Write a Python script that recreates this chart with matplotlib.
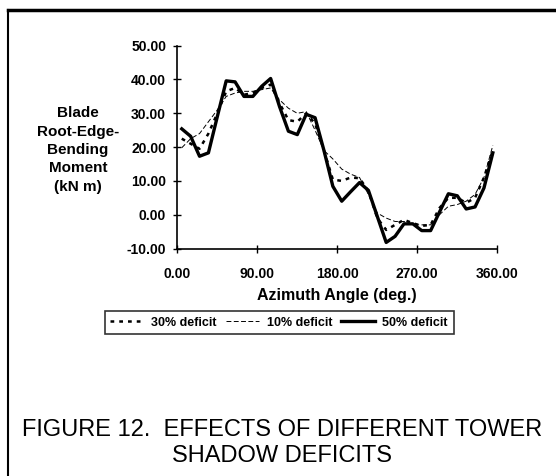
import numpy as np
import matplotlib.pyplot as plt
from matplotlib.lines import Line2D

plt.rcParams['font.family'] = ['Liberation Sans', 'DejaVu Sans']

# azimuth angle (deg.) of each point
azimuth = [5, 15, 25, 35, 45, 55, 65, 75, 85, 95, 105, 115, 125, 135, 145, 155, 165, 175,
           185, 195, 205, 215, 225, 235, 245, 255, 265, 275, 285, 295, 305, 315, 325, 335, 345, 355]

# blade root edge bending moment (kN m)
deficit_30 = [22.5, 21.0, 19.5, 24.0, 30.0, 36.5, 37.5, 35.5, 36.0, 37.5, 38.5, 33.0,
              28.0, 27.5, 30.0, 27.0, 19.0, 10.4, 10.0, 11.0, 10.8, 7.0, -1.0, -4.5,
              -3.0, -1.5, -2.5, -3.3, -3.0, 2.0, 5.0, 5.0, 3.5, 5.0, 11.0, 19.0]
deficit_10 = [19.8, 22.5, 24.0, 27.5, 31.0, 35.0, 36.0, 36.5, 36.5, 37.0, 37.5, 34.0,
              31.5, 30.0, 30.5, 25.0, 19.0, 16.5, 13.5, 12.0, 11.0, 6.0, 0.5, -1.0,
              -2.0, -2.0, -3.0, -3.0, -3.0, 0.0, 2.5, 3.0, 4.0, 6.0, 11.0, 20.5]
deficit_50 = [25.4, 23.2, 17.3, 18.3, 29.0, 39.6, 39.3, 35.0, 35.0, 38.0, 40.3, 32.0,
              24.7, 23.7, 29.7, 28.7, 19.0, 8.4, 4.0, 6.8, 9.5, 7.2, -0.5, -8.2,
              -6.4, -2.7, -2.7, -4.7, -4.7, 0.8, 6.2, 5.6, 1.7, 2.3, 7.9, 18.3]

x_ticks = [0, 90, 180, 270, 360]
y_ticks = [-10, 0, 10, 20, 30, 40, 50]

fig = plt.figure(figsize=(5.56, 4.76), dpi=100)
ax = fig.add_axes([0.3189, 0.4779, 0.5755, 0.4261])

ax.plot(azimuth, deficit_30, color='black', lw=1.8, dashes=(1.5, 2.0), label='30% deficit')
ax.plot(azimuth, deficit_10, color='black', lw=0.7, dashes=(5, 2.5), label='10% deficit')
ax.plot(azimuth, deficit_50, color='black', lw=2.4, label='50% deficit')

ax.set_xlim(0, 360)
ax.set_ylim(-10, 50)
ax.set_xticks(x_ticks)
ax.set_yticks(y_ticks)
ax.set_xticklabels(['%.2f' % v for v in x_ticks], fontweight='bold', fontsize=10)
ax.set_yticklabels(['%.2f' % v for v in y_ticks], fontweight='bold', fontsize=10)
ax.tick_params(direction='inout', length=6, width=1)
ax.tick_params(axis='y', pad=5)
ax.tick_params(axis='x', pad=10)
for side in ['top', 'right']:
    ax.spines[side].set_visible(False)
ax.spines['left'].set_linewidth(1.2)
ax.spines['bottom'].set_linewidth(1.2)

ax.set_xlabel('Azimuth Angle (deg.)', fontweight='bold', fontsize=11.5, labelpad=5)
fig.text(78 / 556, 1 - 150 / 476, 'Blade\nRoot-Edge-\nBending\nMoment\n(kN m)',
         ha='center', va='center', fontweight='bold', fontsize=11, linespacing=1.4)

leg = ax.legend(loc='center', bbox_to_anchor=(279 / 556, 1 - 322.5 / 476),
                bbox_transform=fig.transFigure, ncol=3, frameon=True, fancybox=False,
                handlelength=2.7, handletextpad=0.6, columnspacing=0.7,
                borderpad=0.45, prop={'weight': 'bold', 'size': 9})
leg.get_frame().set_edgecolor('black')
leg.get_frame().set_linewidth(1.2)

fig.text(282 / 556, 1 - 443 / 476, 'FIGURE 12.  EFFECTS OF DIFFERENT TOWER\nSHADOW DEFICITS',
         ha='center', va='center', fontsize=17, linespacing=1.25)

# page frame: left and top edges only
fig.add_artist(Line2D([8 / 556, 8 / 556], [0, 1 - 10 / 476], transform=fig.transFigure,
                      color='black', lw=1.5))
fig.add_artist(Line2D([8 / 556, 1], [1 - 10 / 476, 1 - 10 / 476], transform=fig.transFigure,
                      color='black', lw=2.5))

fig.savefig('out.png', dpi=100)
